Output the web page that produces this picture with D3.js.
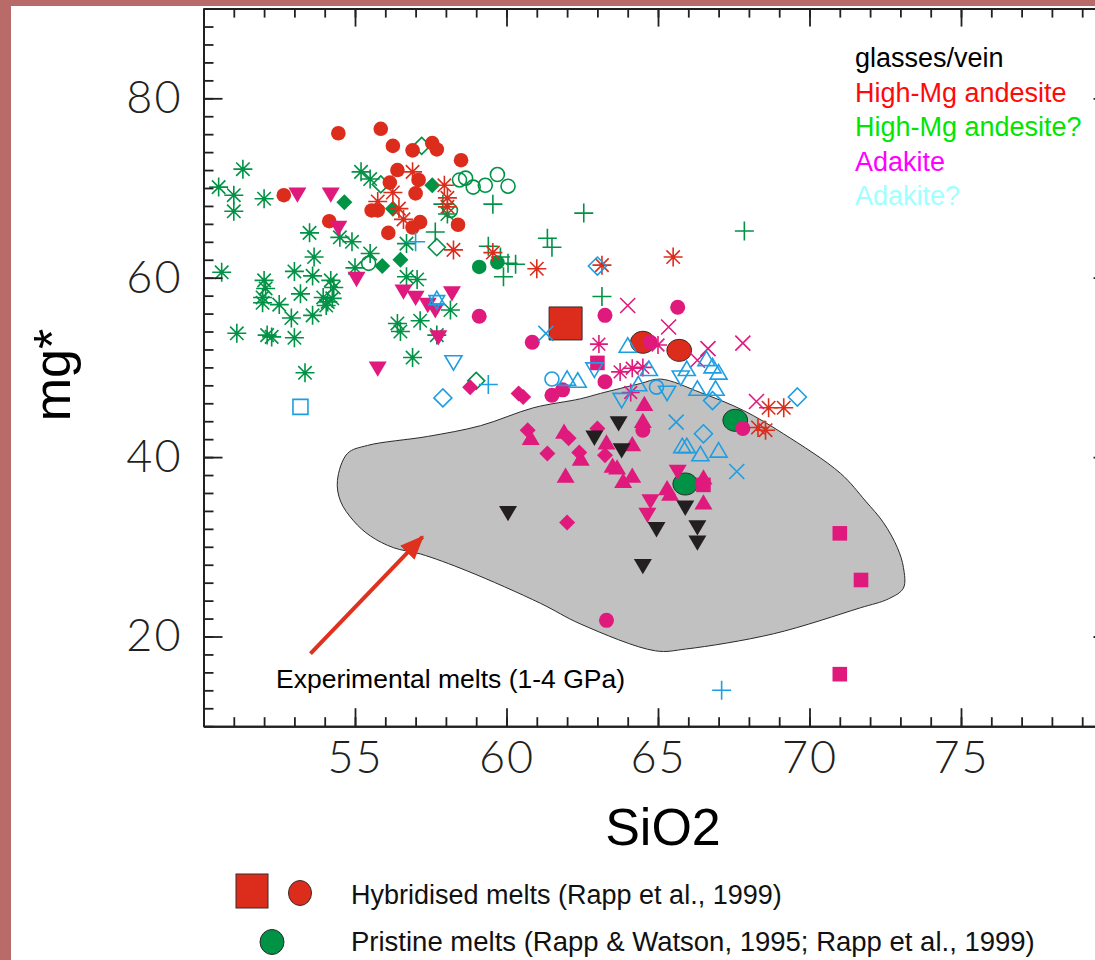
<!DOCTYPE html>
<html>
<head>
<meta charset="utf-8">
<script src="https://cdn.jsdelivr.net/npm/d3@7"></script>
<style>
  html, body { margin: 0; padding: 0; background: #b96b69; }
  svg { display: block; }
</style>
</head>
<body>
<svg id="chart" width="1095" height="960"></svg>
<script>
// values, every point is [SiO2, mg*]
const xTicks = [55, 60, 65, 70, 75];
const yTicks = [20, 40, 60, 80];

const greenAsterisk = [[51.3,72.1],[50.5,70.1],[51.0,69.2],[51.0,67.4],[52.0,68.8],[55.2,71.8],[55.5,71.0],[53.5,65.0],[54.5,64.5],[54.9,64.0],[53.65,62.3],[55.5,62.7],[56.7,63.8],[50.6,60.6],[53.0,60.7],[53.6,60.2],[55.0,61.1],[52.0,59.7],[52.05,58.8],[54.2,59.7],[54.3,58.9],[56.7,60.1],[57.05,59.8],[51.95,57.8],[51.95,57.2],[52.5,57.0],[53.2,58.2],[53.95,57.8],[54.1,57.3],[54.25,57.7],[54.05,56.9],[52.9,55.5],[53.6,55.8],[51.1,53.8],[52.1,53.6],[52.25,53.4],[53.0,53.3],[56.4,54.9],[56.5,54.0],[57.15,55.2],[56.9,51.1],[53.35,49.4],[58.15,56.4],[58.05,67.1],[57.7,53.6]];
const greenPlus = [[57.9,68.2],[59.55,68.2],[62.55,67.2],[67.85,65.2],[57.65,65.1],[59.4,63.5],[61.35,64.4],[61.5,63.4],[59.8,62.3],[60.05,61.6],[60.3,61.5],[59.9,60.1],[63.15,57.9]];
const greenOpenCircle = [[58.45,70.9],[58.65,71.1],[58.9,70.1],[59.3,70.3],[59.7,71.5],[60.05,70.2],[55.45,61.6],[58.15,67.5]];
const greenOpenDiamond = [[57.2,74.7],[57.7,63.4],[59.0,48.5],[55.85,70.4]];
const greenDiamond = [[54.65,68.4],[56.25,67.7],[57.55,70.3],[55.9,61.3],[56.5,62.0]];
const greenDot = [[59.1,61.2],[59.7,61.7]];

const redDot = [[54.45,76.1],[55.85,76.6],[56.25,74.7],[56.9,74.2],[57.55,75.0],[57.7,74.3],[58.5,73.1],[56.4,72.0],[56.15,70.6],[57.1,70.9],[57.0,69.4],[52.65,69.2],[55.55,67.5],[55.75,67.5],[54.15,66.3],[56.9,65.6],[57.15,66.2],[58.4,65.9],[56.1,65.0]];
const redAsterisk = [[56.9,71.8],[56.25,69.5],[55.75,68.5],[56.45,67.7],[56.6,66.5],[57.95,70.3],[58.05,68.9],[58.05,67.9],[58.25,63.1],[59.55,62.8],[61.0,61.0],[63.15,61.4],[65.5,62.3],[68.65,45.5],[69.15,45.5],[68.3,43.3],[68.55,43.0]];

const magentaDown = [[53.1,69.2],[54.2,69.2],[54.45,65.5],[55.05,59.8],[56.6,58.4],[57.0,57.7],[57.4,56.9],[57.65,56.3],[58.2,58.2],[57.75,53.3],[55.75,49.8],[65.65,38.3],[64.75,35.0],[64.65,33.5]];
const magentaUp = [[60.8,42.2],[61.9,42.9],[61.95,38.0],[63.3,41.7],[64.15,41.5],[62.45,39.9],[63.5,39.1],[63.65,38.9],[63.85,37.4],[64.15,38.0],[64.5,44.1],[64.55,46.0],[65.3,36.6],[65.4,36.0],[66.5,37.8],[66.5,35.0]];
const magentaDiamond = [[58.8,47.8],[60.4,47.1],[60.55,46.7],[60.7,43.0],[61.35,40.4],[62.05,42.1],[62.4,40.5],[63.0,43.2],[63.25,40.2],[62.0,32.7]];
const magentaDot = [[59.1,55.7],[60.85,52.8],[61.5,46.9],[61.85,47.5],[63.25,55.8],[63.25,48.4],[64.75,52.8],[65.65,56.7],[64.5,43.0],[67.8,43.2],[63.3,21.8]];
const magentaSquare = [[63.0,50.5],[66.5,36.9],[71.0,31.5],[71.7,26.3],[71.0,15.8]];
const magentaCross = [[64.0,56.9],[65.35,54.5],[66.3,50.8],[66.65,52.1],[67.8,52.7],[68.25,46.2]];
const magentaAsterisk = [[63.05,52.6],[65.0,52.5],[63.75,49.5],[64.15,49.9],[64.5,50.0],[64.1,47.2]];

const blueUp = [[62.0,48.8],[62.35,48.6],[64.0,52.5],[64.35,48.2],[64.7,49.9],[65.95,49.9],[66.3,47.7],[66.9,47.7],[66.6,51.0],[66.8,50.2],[67.0,49.5],[65.8,41.3],[65.95,41.3],[66.4,40.4],[67.0,40.8]];
const blueDown = [[58.25,50.5],[62.9,49.7],[63.8,46.3],[65.3,47.1],[65.75,48.8]];
const blueCircle = [[61.5,48.7],[64.95,47.8]];
const blueDiamond = [[57.9,46.6],[63.0,61.3],[66.5,42.6],[66.8,46.3],[69.6,46.7]];
const blueSquare = [[53.2,45.6]];
const blueStar = [[57.7,57.5]];
const bluePlus = [[57.0,64.0],[59.4,48.1],[67.1,14.0]];
const blueCross = [[61.3,53.8],[65.6,43.9],[67.6,38.4]];

const blackDown = [[60.05,33.7],[62.9,42.1],[63.7,43.7],[63.8,40.7],[64.95,31.9],[65.9,34.3],[66.3,32.1],[66.3,30.4],[64.5,27.8]];

const hybridSquare = [[61.95,54.9]];
const hybridOval = [[64.5,52.8],[65.7,51.9]];
const pristineOval = [[67.55,44.1],[65.9,37.0]];

// outline of the experimental melt field
const meltField = [[54.42,37.4],[54.75,40.4],[55.41,41.3],[57.39,42.3],[59.14,43.5],[60.89,45.5],[62.44,46.5],[63.1,47.1],[64.42,48.2],[65.08,48.7],[66.4,47.2],[67.82,45.2],[69.14,42.6],[71.02,38.2],[71.85,35.1],[72.44,32.7],[72.9,29.9],[73.1,27.7],[73.1,25.4],[72.61,24.2],[71.68,23.2],[68.81,20.3],[65.91,18.6],[64.92,18.4],[62.44,21.4],[61.12,23.7],[58.71,27.3],[57.16,29.2],[56.27,29.9],[55.51,31.2],[54.95,32.9],[54.52,35.1]];
const arrowFrom = [53.53, 18.1];
const arrowTo = [57.23, 31.1];

const rockLabels = ["glasses/vein", "High-Mg andesite", "High-Mg andesite?", "Adakite", "Adakite?"];
const rockColors = ["#000000", "#ff0a0a", "#00e600", "#ff00ff", "#a0ffff"];

const GREEN = "#009245", RED = "#dc2c1c", MAG = "#e0197d", BLUE = "#1d9ee2", BLACK = "#231f20";

const svg = d3.select("#chart");
const plotL = 203.5, plotR = 1112.5, plotT = 8.6, plotB = 726.2;
const x = d3.scaleLinear().domain([50, 80]).range([plotL, plotR]);
const y = d3.scaleLinear().domain([10, 90]).range([plotB, plotT]);

// white sheet inside the rose border
svg.append("rect").attr("x", 11).attr("y", 6).attr("width", 1084).attr("height", 954).attr("fill", "#fff");

// symbol shapes, size = radius in px
const shapes = {
  circle: { draw(c, r) { c.moveTo(r, 0); c.arc(0, 0, r, 0, 2 * Math.PI); } },
  oval: { draw(c, r) {
    const rx = r * 1.12, ry = r, k = 0.5523;
    c.moveTo(rx, 0);
    c.bezierCurveTo(rx, ry * k, rx * k, ry, 0, ry);
    c.bezierCurveTo(-rx * k, ry, -rx, ry * k, -rx, 0);
    c.bezierCurveTo(-rx, -ry * k, -rx * k, -ry, 0, -ry);
    c.bezierCurveTo(rx * k, -ry, rx, -ry * k, rx, 0);
    c.closePath();
  } },
  square: { draw(c, r) { c.rect(-r, -r, 2 * r, 2 * r); } },
  diamond: { draw(c, r) { c.moveTo(0, -r); c.lineTo(r, 0); c.lineTo(0, r); c.lineTo(-r, 0); c.closePath(); } },
  triUp: { draw(c, r) { const h = r * 0.85; c.moveTo(0, -h); c.lineTo(r, h); c.lineTo(-r, h); c.closePath(); } },
  triDown: { draw(c, r) { const h = r * 0.85; c.moveTo(0, h); c.lineTo(r, -h); c.lineTo(-r, -h); c.closePath(); } },
  plus: { draw(c, r) { c.moveTo(-r, 0); c.lineTo(r, 0); c.moveTo(0, -r); c.lineTo(0, r); } },
  cross: { draw(c, r) { c.moveTo(-r, -r); c.lineTo(r, r); c.moveTo(-r, r); c.lineTo(r, -r); } },
  asterisk: { draw(c, r) {
    const d = r * Math.SQRT1_2;
    c.moveTo(-r, 0); c.lineTo(r, 0); c.moveTo(0, -r); c.lineTo(0, r);
    c.moveTo(-d, -d); c.lineTo(d, d); c.moveTo(-d, d); c.lineTo(d, -d);
  } },
  star6: { draw(c, r) {
    for (const off of [0, Math.PI]) {
      for (let i = 0; i < 3; i++) {
        const a = off - Math.PI / 2 + i * 2 * Math.PI / 3;
        const px = r * Math.cos(a), py = r * Math.sin(a);
        if (i === 0) c.moveTo(px, py); else c.lineTo(px, py);
      }
      c.closePath();
    }
  } }
};

// experimental melt field
svg.append("path")
  .datum(meltField)
  .attr("d", d3.line().x(d => x(d[0])).y(d => y(d[1])).curve(d3.curveCatmullRomClosed.alpha(0.5)))
  .attr("fill", "#c1c1c1")
  .attr("stroke", "#2b2b2b")
  .attr("stroke-width", 1);

// arrow pointing into the field
svg.append("defs").append("marker")
  .attr("id", "head")
  .attr("markerUnits", "userSpaceOnUse")
  .attr("viewBox", "0 0 24 20")
  .attr("refX", 22).attr("refY", 10)
  .attr("markerWidth", 24).attr("markerHeight", 20)
  .attr("orient", "auto")
  .append("path").attr("d", "M0,0 L24,10 L0,20 Z").attr("fill", "#e0301e");

svg.append("line")
  .attr("x1", x(arrowFrom[0])).attr("y1", y(arrowFrom[1]))
  .attr("x2", x(arrowTo[0])).attr("y2", y(arrowTo[1]))
  .attr("stroke", "#e0301e").attr("stroke-width", 4)
  .attr("marker-end", "url(#head)");

const series = [
  { data: hybridSquare, shape: "square", r: 16.5, fill: RED, stroke: "#3a2a28", sw: 1 },
  { data: hybridOval, shape: "oval", r: 11, fill: RED, stroke: "#3a2a28", sw: 1 },
  { data: pristineOval, shape: "oval", r: 11, fill: GREEN, stroke: "#2a2a2a", sw: 1 },
  { data: greenAsterisk, shape: "asterisk", r: 9.5, fill: "none", stroke: GREEN, sw: 1.6 },
  { data: greenPlus, shape: "plus", r: 9.5, fill: "none", stroke: GREEN, sw: 1.6 },
  { data: greenOpenCircle, shape: "circle", r: 7, fill: "none", stroke: GREEN, sw: 1.6 },
  { data: greenOpenDiamond, shape: "diamond", r: 8.5, fill: "none", stroke: GREEN, sw: 1.6 },
  { data: greenDiamond, shape: "diamond", r: 8, fill: GREEN, stroke: "none", sw: 0 },
  { data: greenDot, shape: "circle", r: 7.3, fill: GREEN, stroke: "none", sw: 0 },
  { data: redDot, shape: "circle", r: 7.3, fill: RED, stroke: "none", sw: 0 },
  { data: redAsterisk, shape: "asterisk", r: 9.5, fill: "none", stroke: RED, sw: 1.6 },
  { data: magentaUp, shape: "triUp", r: 9, fill: MAG, stroke: "none", sw: 0 },
  { data: magentaDiamond, shape: "diamond", r: 8, fill: MAG, stroke: "none", sw: 0 },
  { data: magentaDown, shape: "triDown", r: 9, fill: MAG, stroke: "none", sw: 0 },
  { data: magentaDot, shape: "circle", r: 7.5, fill: MAG, stroke: "none", sw: 0 },
  { data: magentaSquare, shape: "square", r: 7.3, fill: MAG, stroke: "none", sw: 0 },
  { data: magentaCross, shape: "cross", r: 7.5, fill: "none", stroke: MAG, sw: 1.6 },
  { data: magentaAsterisk, shape: "asterisk", r: 9, fill: "none", stroke: MAG, sw: 1.6 },
  { data: blueUp, shape: "triUp", r: 8.5, fill: "none", stroke: BLUE, sw: 1.6 },
  { data: blueDown, shape: "triDown", r: 8.5, fill: "none", stroke: BLUE, sw: 1.6 },
  { data: blueCircle, shape: "circle", r: 7, fill: "none", stroke: BLUE, sw: 1.6 },
  { data: blueDiamond, shape: "diamond", r: 9, fill: "none", stroke: BLUE, sw: 1.6 },
  { data: blueSquare, shape: "square", r: 7.5, fill: "none", stroke: BLUE, sw: 1.6 },
  { data: blueStar, shape: "star6", r: 9, fill: "none", stroke: BLUE, sw: 1.6 },
  { data: bluePlus, shape: "plus", r: 9.5, fill: "none", stroke: BLUE, sw: 1.6 },
  { data: blueCross, shape: "cross", r: 7.5, fill: "none", stroke: BLUE, sw: 1.6 },
  { data: blackDown, shape: "triDown", r: 9, fill: BLACK, stroke: "none", sw: 0 }
];

const marks = svg.append("g").attr("class", "marks");
series.forEach(s => {
  marks.append("g")
    .selectAll("path")
    .data(s.data)
    .join("path")
    .attr("transform", d => `translate(${x(d[0])},${y(d[1])})`)
    .attr("d", d3.symbol(shapes[s.shape], s.r))
    .attr("fill", s.fill)
    .attr("stroke", s.stroke)
    .attr("stroke-width", s.sw);
});

// frame with inward ticks on all four sides
const tickFont = "Lato, 'DejaVu Sans', sans-serif";
function styleAxis(g) {
  g.select(".domain").attr("stroke", BLACK).attr("stroke-width", 2);
  g.selectAll(".tick line").attr("stroke", BLACK).attr("stroke-width", 1.8);
  g.selectAll("text").attr("font-family", tickFont).attr("font-weight", 300)
    .attr("font-size", 45).attr("letter-spacing", 2).attr("fill", "#231f20");
}
const xMinor = d3.range(50, 81, 1), xMajor = d3.range(50, 81, 5);
const yMinor = d3.range(10, 91, 2);

svg.append("g").attr("transform", `translate(0,${plotB})`)
  .call(d3.axisBottom(x).tickValues(xMinor).tickSize(-9).tickSizeOuter(0).tickFormat(""))
  .call(styleAxis);
svg.append("g").attr("transform", `translate(0,${plotB})`)
  .call(d3.axisBottom(x).tickValues(xMajor).tickSize(-18).tickSizeOuter(0).tickPadding(15)
    .tickFormat(d => xTicks.includes(d) ? d : ""))
  .call(styleAxis);
svg.append("g").attr("transform", `translate(0,${plotT})`)
  .call(d3.axisTop(x).tickValues(xMinor).tickSize(-9).tickSizeOuter(0).tickFormat(""))
  .call(styleAxis);
svg.append("g").attr("transform", `translate(0,${plotT})`)
  .call(d3.axisTop(x).tickValues(xMajor).tickSize(-18).tickSizeOuter(0).tickFormat(""))
  .call(styleAxis);
svg.append("g").attr("transform", `translate(${plotL},0)`)
  .call(d3.axisLeft(y).tickValues(yMinor).tickSize(-10).tickSizeOuter(0).tickFormat(""))
  .call(styleAxis);
svg.append("g").attr("transform", `translate(${plotL},0)`)
  .call(d3.axisLeft(y).tickValues(yTicks).tickSize(-19).tickSizeOuter(0).tickPadding(21))
  .call(styleAxis);
svg.append("g").attr("transform", `translate(${plotR},0)`)
  .call(d3.axisRight(y).tickValues(yMinor).tickSize(-10).tickSizeOuter(0).tickFormat(""))
  .call(styleAxis);
svg.append("g").attr("transform", `translate(${plotR},0)`)
  .call(d3.axisRight(y).tickValues(yTicks).tickSize(-19).tickSizeOuter(0).tickFormat(""))
  .call(styleAxis);

// axis titles
const sans = "'Liberation Sans', Arial, Helvetica, sans-serif";
svg.append("text")
  .attr("transform", "translate(70,375) rotate(-90)")
  .attr("text-anchor", "middle")
  .attr("font-family", sans).attr("font-size", 52).attr("fill", "#000")
  .text("mg*");
svg.append("text")
  .attr("x", 663).attr("y", 845)
  .attr("text-anchor", "middle")
  .attr("font-family", sans).attr("font-size", 52).attr("fill", "#000")
  .text("SiO2");

// rock type key, top right
svg.append("g").selectAll("text")
  .data(rockLabels)
  .join("text")
  .attr("x", 855)
  .attr("y", (d, i) => 67 + i * 34.5)
  .attr("font-family", sans).attr("font-size", 27)
  .attr("fill", (d, i) => rockColors[i])
  .text(d => d);

// label of the melt field
svg.append("text")
  .attr("x", 276).attr("y", 688)
  .attr("font-family", sans).attr("font-size", 26.5).attr("fill", "#000")
  .text("Experimental melts (1-4 GPa)");

// key for the large symbols
const key = svg.append("g");
key.append("rect").attr("x", 236).attr("y", 874).attr("width", 32).attr("height", 34)
  .attr("fill", RED).attr("stroke", "#3a2a28").attr("stroke-width", 1);
key.append("ellipse").attr("cx", 300).attr("cy", 893).attr("rx", 11.5).attr("ry", 12.5)
  .attr("fill", RED).attr("stroke", "#3a2a28").attr("stroke-width", 1);
key.append("ellipse").attr("cx", 272).attr("cy", 942).attr("rx", 12).attr("ry", 12.5)
  .attr("fill", GREEN).attr("stroke", "#2a2a2a").attr("stroke-width", 1);
key.append("text").attr("x", 351).attr("y", 904)
  .attr("font-family", sans).attr("font-size", 27).attr("fill", "#111")
  .text("Hybridised melts (Rapp et al., 1999)");
key.append("text").attr("x", 351).attr("y", 951)
  .attr("font-family", sans).attr("font-size", 27.5).attr("fill", "#111")
  .text("Pristine melts (Rapp & Watson, 1995; Rapp et al., 1999)");
</script>
</body>
</html>
